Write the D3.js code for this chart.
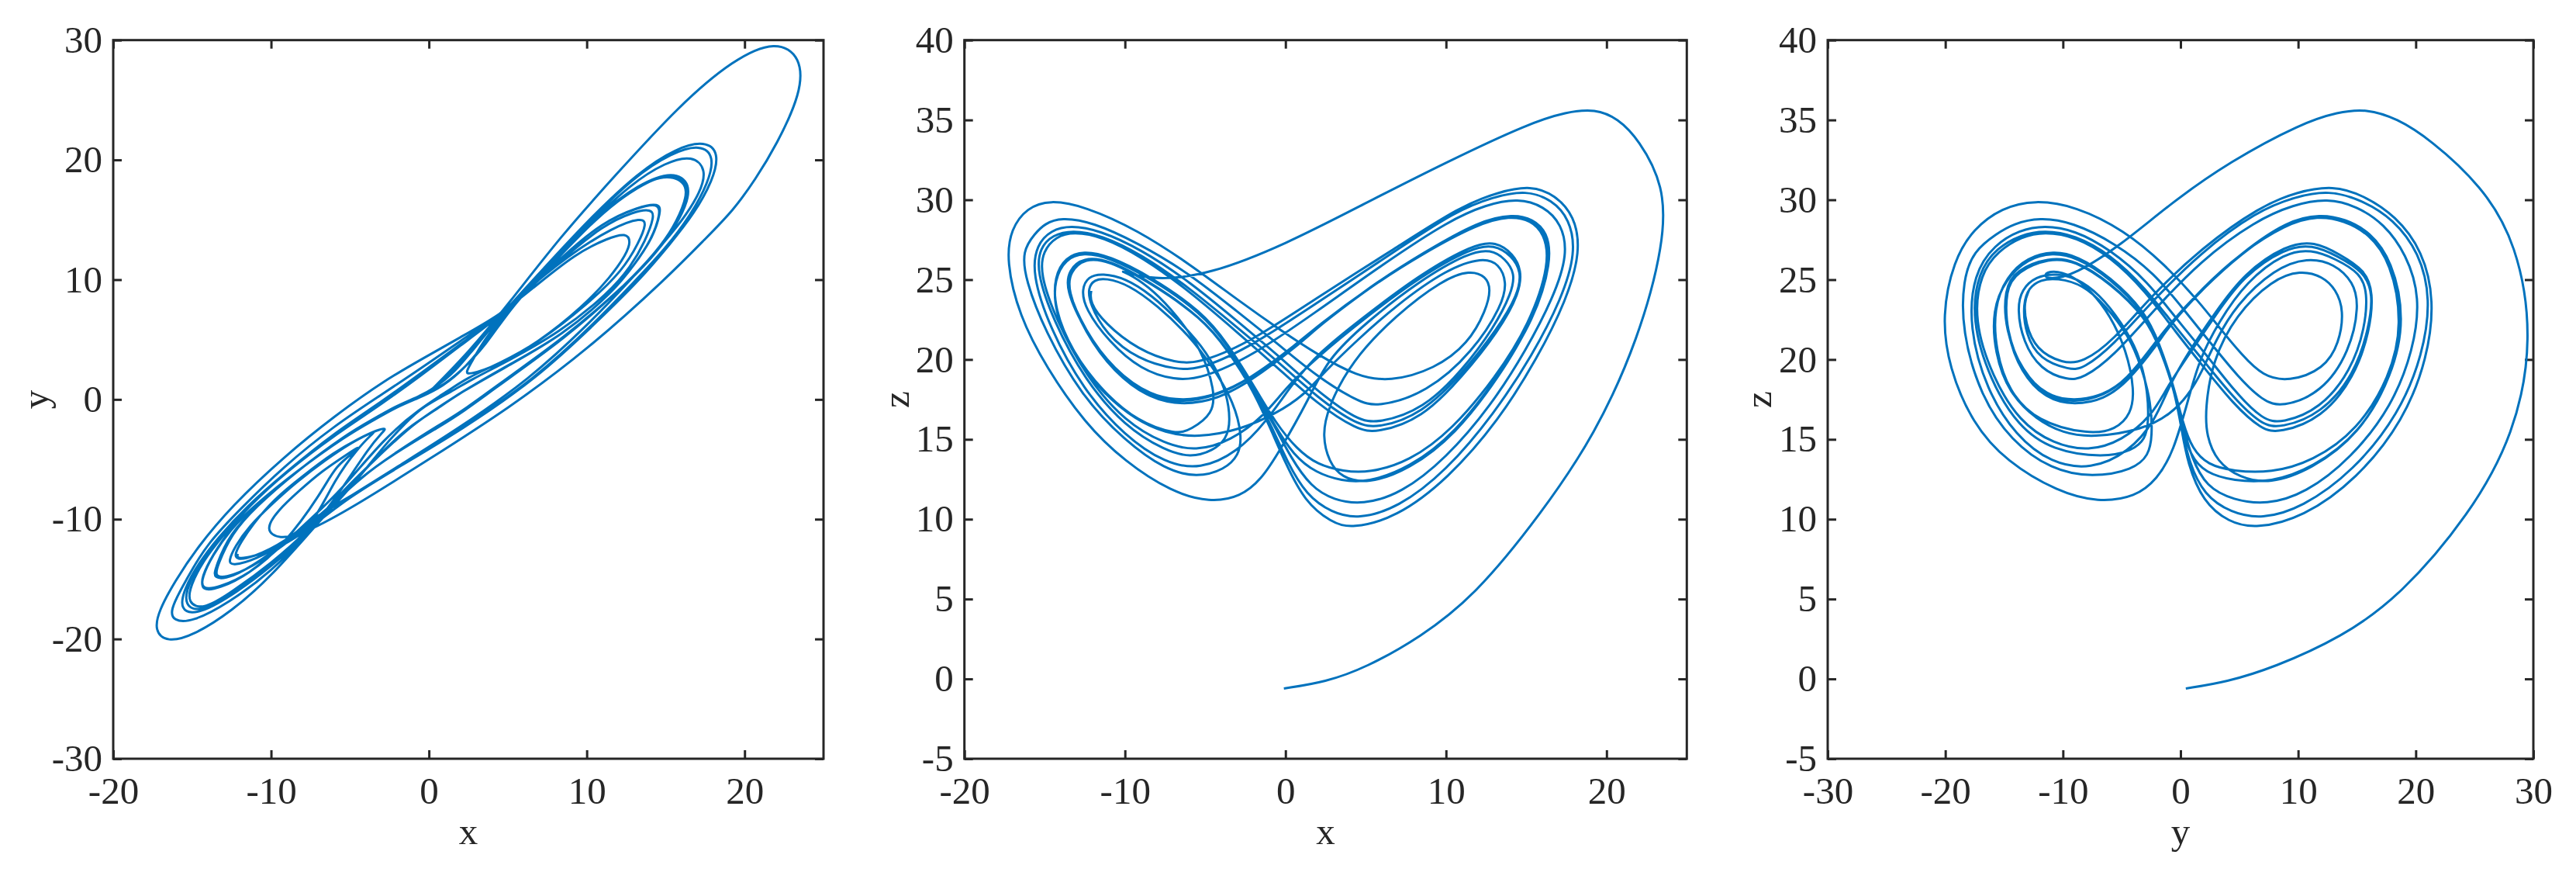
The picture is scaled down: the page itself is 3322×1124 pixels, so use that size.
<!DOCTYPE html>
<html lang="en">
  <head>
    <meta charset="utf-8" />
    <title>Lorenz attractor projections</title>
    <script src="https://cdnjs.cloudflare.com/ajax/libs/d3/7.0.0/d3.min.js"></script>
    <style>
      body {
        margin: 0;
        background-color: #fff;
      }
      svg {
        display: block;
      }
      text {
        font-family: "Liberation Serif", serif;
        font-size: 49px;
        fill: #262626;
      }
      .trace {
        fill: none;
        stroke: #0072bd;
        stroke-width: 3px;
        stroke-linejoin: round;
      }
      .frame {
        fill: none;
        stroke: #262626;
        stroke-width: 3px;
      }
      .tick line {
        stroke: #262626;
        stroke-width: 3px;
      }
      .domain {
        display: none;
      }
    </style>
  </head>

  <body>
    <div id="chart"></div>

    <script>
      // one trajectory, one row per turn of the curve
      const xValues = [
        -0.1, 2.5, 5, 8.4, 11.8, 15.9, 19.3, 22, 23.6, 23.6, 22, 20.7, 19.3, 17.5, 15.2, 10.1, 5, 0, -4.8, -7.9, -9.5, -10.4, -9.6, -8.2, -6.8, -5.2, -4.4, -4.5, -5.9, -6.8,
        -9.2, -11.4, -13.3, -14.4, -14.4, -13.7, -12.6, -11, -8.4, -5.2, -3.6, -2, -0.6, 0.7, 2, 3.6,
        5.2, 7.7, 10.4, 13.1, 15.2, 16.5, 16.1, 15.3, 14, 12, 8.5, 5.2, 2, 0.75, -2.3, -4.4,
        -6.3, -8.4, -10.7, -12.5, -13.65, -13.5, -12.6, -11, -8.4, -5.2, -3.6, -2, -0.7, 0.3, 1.6, 3,
        4.8, 7.2, 10, 12.8, 15, 16.7, 17.6, 17.2, 16.1, 14.5, 12.5, 10.2, 6.4, 1.8, -2.1, -5.2,
        -6.9, -9, -11, -12.5, -12.7, -12.3, -11.4, -10, -8.4, -6.5, -4.9, -3.7, -3.4, -3.7, -4.5, -5.9,
        -7.5, -10, -12.5, -14.5, -15.5, -15.3, -14.5, -13.3, -11.5, -9, -6, -3, -0.5, 2, 4.45,
        5.8, 8.5, 11, 13.2, 14.5, 14.7, 14.1, 13, 11.6, 8.4, 5.2, 1.9, 0, -1.3, -3.4, -5.6,
        -7.5, -10, -12.4, -14.3, -15.3, -15.1, -14.3, -13.2, -11.4, -8.9, -6, -3, -0.5, 2, 4.45,
        5.7, 8.5, 11, 13.3, 14.6, 14.7, 14.2, 13.1, 11.7, 8.5, 5.3, 2, 0.3, -1.2, -3, -5.3,
        -7.5, -10, -12.6, -14.7, -15.8, -15.5, -14.6, -13.4, -11.6, -9, -6, -3, -0.5, 2, 4.45,
        5.8, 8.6, 11, 13, 14.1, 14.3, 13.7, 12.8, 11.4, 8.3, 5, 2.6, 1.5, -0.4, -1.5, -2.8,
        -4.7, -7.1, -10, -12.5, -14.9, -16.6, -17.4, -17.1, -16.1, -14.7, -12.5, -9.2, -6, -2.8, -0.4, 2, 4.45,
        6.5, 9.3, 11.4, 12.5, 12.8, 12.5, 11.5, 9.8, 6.9, 4.1, 2.6, 2.3, 2.7, 3.5,
        5.1, 7.7, 10.6, 13.3, 15.4, 16.5, 16.2, 15.4, 14.1, 12, 8.5, 5.2, 2, 0.75, -2.3, -4.4,
        -6.3, -8.4, -10.7, -12.5, -13.7, -13.5, -12.6, -11, -8.4, -5.2, -3.6, -2, -0.8, 0.1, 1.3, 2.9,
        4.5, 7, 10, 13, 15.4, 17.2, 18.1, 17.7, 16.6, 15, 13, 10.6, 6.7, 1.9, -2, -5.2,
        -6.8, -9.2, -11.2, -12.2, -12.3, -11.9, -11.2, -9.8, -8, -6, -4.5, -3.2, -2.7, -2.9, -3.8, -5.5,
        -7.5, -10, -12.7, -15, -16.2, -16.4, -15.6, -15, -14, -12, -9.2, -6, -3, -0.5, 2, 4.45,
        5.7, 8.8, 11.7, 13.5, 13.8, 13.3, 12.3, 10.1, 6.9, 4.45, 2.4, 1.2, -0.6, -2.8,
        -5.5, -7.5, -9.3, -11.4, -13.3, -14.4, -14.4, -13.7, -12.6, -11, -8.4, -5.2, -3.6, -2, -0.7, 0.5, 1.9, 3.5,
        5.1, 7.7, 10.6, 13.3, 15.5, 16.6, 16.3, 15.4, 14.2, 12.1, 8.6, 5.3, 2.1, 0.8, -2.2, -4.3,
        -6.3, -8.4, -10.7, -12.5, -13.6, -13.4, -12.5, -11, -8.4, -5.2, -3.6, -2, -0.9, 0, 1.2, 2.85,
        4.1, 6.9, 10.1, 13.3, 15.7, 17.5, 18.4, 18, 16.8, 15.3, 13.3, 10.9, 6.9, 2, -2, -5.2,
        -6.8, -9.2, -11.3, -12.2, -12.1,
      ];
      const yValues = [
        0.45, 3.9, 7.9, 13.7, 18.7, 24.6, 28.4, 30, 28.6, 25.6, 21.2, 18.4, 15.8, 13.4, 10.3, 4.2, -0.8, -5, -9, -11.2, -11.7, -10.9, -9.3, -7.6, -6, -4.6, -3.9, -4.2, -5.5, -7.8,
        -12.2, -14.6, -15.7, -15.9, -14.8, -13, -10.8, -8.8, -6, -3, -1.8, -0.6, 0.2, 1, 2.3, 4.5,
        7.7, 11.2, 15.1, 17.8, 18.9, 17.9, 16, 13.9, 11.7, 9, 5, 1.9, -1.2, -2.2, -4.6, -6.6,
        -9, -11.4, -13.6, -14.8, -15, -13.9, -11.2, -9, -6, -2.9, -1.7, -0.5, 0.2, 0.9, 2.2, 4.5,
        7.3, 10.6, 14.5, 18, 19.8, 20.4, 19.2, 17.3, 15, 12.5, 9.6, 6.4, 1.7, -2.5, -5.7, -8.3,
        -9.6, -11.9, -13.4, -13.9, -13.5, -12.3, -10.6, -8.8, -6.9, -5, -3.6, -2.8, -2.7, -3, -4.1, -6.5,
        -10.9, -13.8, -16.2, -17.8, -17.2, -15.6, -13.6, -11.6, -9, -6, -3, -0.4, 2, 4.5, 6.9,
        8.5, 12, 14.8, 16, 16.4, 15.6, 13.3, 11.2, 8.9, 5.3, 3, 0.5, -1.2, -2.4, -5, -7.8,
        -10.8, -13.7, -16, -17.6, -17, -15.5, -13.5, -11.6, -8.9, -5.9, -3, -0.4, 2, 4.5, 6.9,
        8.4, 12, 14.8, 16.1, 16.4, 15.7, 13.5, 11.4, 9, 5.4, 3, 0.6, -1, -2.2, -4.4, -7.6,
        -11, -14, -16.5, -18, -17.6, -15.8, -13.7, -11.6, -9, -6, -2.8, -0.2, 2.2, 4.6, 7,
        8.6, 11.9, 14.5, 15.7, 15.9, 15.3, 13.2, 11.1, 8.9, 5.6, 3.2, 1.6, 0.7, -0.6, -2, -3.8,
        -7, -10.4, -14.8, -17.7, -19.7, -20.3, -19.3, -17.6, -15.2, -12.4, -8.9, -4.8, -1.4, 1.6, 3.4, 5.2, 7,
        9.2, 12.2, 13.5, 13.9, 13.2, 12.1, 10.2, 7.8, 4.7, 2.7, 2.1, 2.2, 3.1, 5,
        7.6, 11.1, 15.2, 17.9, 19, 17.9, 16, 13.9, 11.8, 9, 5.1, 2, -1.1, -2.1, -4.6, -6.6,
        -9, -11.3, -13.5, -14.9, -15, -14, -11.2, -9, -6, -2.9, -1.7, -0.5, 0.1, 0.7, 2, 4.3,
        6.9, 10.3, 14.7, 18.6, 20.6, 21.3, 20.3, 18.1, 15.4, 12.6, 9.8, 6.5, 1.7, -2.6, -5.7, -8.3,
        -9.4, -12, -13.2, -13.4, -12.9, -11.9, -10.5, -8.3, -6.4, -4.4, -3.3, -2.5, -2.4, -2.7, -4, -7.5,
        -11, -14.4, -17, -18.6, -18.5, -17.6, -15.6, -14.2, -12, -9.2, -5.6, -2.2, 0.4, 2.6, 4.9, 7,
        8.6, 12, 14.4, 15.2, 14.7, 13.1, 10.8, 8, 4.7, 3, 1.8, 0.7, -0.8, -3.2,
        -7.5, -10, -12.2, -14.6, -15.8, -16, -14.9, -13, -10.9, -8.8, -6, -3, -1.8, -0.6, 0.1, 0.8, 2.1, 4.5,
        7.7, 11.2, 15.3, 18, 19.1, 18, 16.1, 14, 11.9, 9.1, 5.2, 2.1, -1, -2, -4.5, -6.5,
        -9, -11.4, -13.6, -14.8, -14.9, -13.9, -11.2, -9, -6, -2.9, -1.7, -0.5, 0.1, 0.6, 1.9, 4.1,
        6.4, 10.4, 15, 19, 21, 21.6, 20.6, 18.3, 15.5, 13, 9.9, 6.8, 1.8, -2.6, -5.7, -8.3,
        -10, -12.3, -13.2, -13.3, -12.9,
      ];
      const zValues = [
        -0.6, -0.2, 0.7, 2.6, 5.2, 10.3, 15.3, 21.3, 27.3, 30.9, 33.8, 35.1, 35.7, 35.5, 34.8, 32.4, 29.8, 27.2, 25.3, 25, 25.3, 25.6, 25.3, 24.3, 22.8, 20.6, 18.05, 16.6, 15.6, 15.3,
        16.1, 18, 20.5, 23.2, 25.2, 26.4, 26.8, 26.5, 25.2, 23, 21, 18.4, 16, 14.4, 13.4, 13,
        12.9, 13.6, 15.6, 18.9, 22.2, 26.1, 27.9, 28.7, 29, 28.5, 26.6, 24.5, 22, 21, 18.7, 17.75,
        17.4, 17.7, 19.35, 21.8, 24.5, 25.6, 26.4, 26.25, 24.85, 22.6, 20.65, 18.1, 15.9, 13.9, 12, 11.2,
        10.9, 11.6, 13.8, 17.1, 20.6, 23.9, 26.6, 28.5, 29.6, 30.1, 29.7, 28.7, 26.2, 22.9, 20.2, 18.8,
        18.7, 19.35, 21.1, 23.2, 24.4, 25.2, 25.4, 25.1, 24.1, 22.3, 20.5, 18.2, 16.1, 15, 14.3, 13.85,
        14.3, 15.8, 18.7, 22.5, 25.5, 27, 27.8, 28.1, 27.8, 26.6, 24.5, 22, 19.9, 17.6, 15.9,
        15.7, 16.6, 19.1, 21.9, 24.1, 25.5, 26.5, 27.2, 27, 25.2, 22.8, 20.1, 18.2, 16.5, 14.9, 14.25,
        14.7, 16.1, 18.9, 22.5, 25.4, 26.8, 27.7, 28, 27.7, 26.4, 24.3, 21.7, 19.5, 17.2, 15.6,
        15.4, 16.3, 18.9, 21.8, 24.2, 25.6, 26.6, 27.4, 27.2, 25.4, 23, 20.4, 18.3, 16.1, 14.2, 13.1,
        13.5, 15.2, 18.1, 22, 25.4, 27.2, 28.1, 28.4, 28.1, 26.9, 24.9, 22.4, 20.3, 18, 16.2,
        16, 16.9, 19.3, 22, 24.2, 25.4, 26.3, 26.9, 26.7, 24.9, 22.3, 20, 17.6, 14.2, 12.5, 11.4,
        11.05, 11.7, 13.6, 16, 19.5, 22.75, 26.2, 28.2, 29.5, 30, 29.6, 28.1, 26, 23.6, 21.9, 20.3, 18.95,
        18.6, 19.4, 21, 23.1, 24.4, 25.2, 25.6, 25, 22.8, 19.9, 16.9, 15.2, 13.6, 12.6,
        12.2, 13.1, 15.3, 18.9, 22.4, 26.1, 27.9, 28.7, 29.05, 28.6, 26.6, 24.5, 22.1, 21, 18.7, 17.7,
        17.3, 17.6, 19.3, 21.8, 24.4, 25.6, 26.4, 26.2, 24.8, 22.6, 20.6, 18.05, 15.7, 13.6, 11.5, 10.4,
        10, 10.7, 13, 16.6, 20.3, 23.8, 26.7, 28.8, 30, 30.6, 30.2, 29.3, 26.7, 23.5, 20.9, 19.4,
        19.35, 20, 21.6, 23.5, 24.5, 25, 25.1, 24.7, 23.4, 21.5, 19.5, 17.3, 15.2, 14, 13.1, 12.6,
        13.1, 14.9, 17.7, 21.8, 25, 26.8, 27.9, 28.5, 28.9, 28.6, 27.3, 25.4, 23, 21, 18.9, 17.4,
        17, 17.9, 20.5, 23.4, 24.85, 26, 26.4, 25.7, 23.4, 21.2, 19.2, 17.8, 16.6, 15.6,
        15.1, 15.4, 16.2, 17.9, 20.4, 23.1, 25, 26.3, 26.7, 26.4, 25.1, 22.9, 20.9, 18.3, 15.9, 14, 12.9, 12.4,
        12.3, 13.2, 15.4, 19, 22.5, 26.2, 28, 28.8, 29.1, 28.7, 26.7, 24.6, 22.1, 20.9, 18.6, 17.5,
        17.15, 17.5, 19.2, 21.7, 24.4, 25.5, 26.35, 26.2, 24.85, 22.6, 20.65, 18.05, 15.6, 13.5, 11.1, 9.8,
        9.4, 10.1, 12.5, 16.2, 20.1, 23.7, 26.8, 29, 30.3, 30.9, 30.5, 29.6, 27, 23.9, 21.2, 19.8,
        19.75, 20.6, 22.3, 23.6, 24.3,
      ];

      const xDomain = [-20, 25];
      const yDomain = [-30, 30];
      const zDomain = [-5, 40];
      const xTicks = [-20, -10, 0, 10, 20];
      const yTicks = [-30, -20, -10, 0, 10, 20, 30];
      const zTicks = [-5, 0, 5, 10, 15, 20, 25, 30, 35, 40];

      const width = 3322;
      const height = 1124;
      const plotTop = 51.7;
      const plotBottom = 978;
      const tickLength = 11;

      const svg = d3
        .select("#chart")
        .append("svg")
        .attr("width", width)
        .attr("height", height);

      function drawPanel(p) {
        const sx = d3.scaleLinear().domain(p.hDomain).range([p.left, p.right]);
        const sy = d3.scaleLinear().domain(p.vDomain).range([plotBottom, plotTop]);
        const g = svg.append("g");

        const fmt = (d) => String(d); // plain hyphen like the original labels

        // bottom + left carry the labels, top + right only mirror the ticks
        g.append("g")
          .attr("transform", `translate(0,${plotBottom})`)
          .call(d3.axisBottom(sx).tickValues(p.hTicks).tickFormat(fmt).tickSize(-tickLength).tickPadding(23));
        g.append("g")
          .attr("transform", `translate(${p.left},0)`)
          .call(d3.axisLeft(sy).tickValues(p.vTicks).tickFormat(fmt).tickSize(-tickLength).tickPadding(14));
        g.append("g")
          .attr("transform", `translate(0,${plotTop})`)
          .call(d3.axisTop(sx).tickValues(p.hTicks).tickFormat("").tickSize(-tickLength));
        g.append("g")
          .attr("transform", `translate(${p.right},0)`)
          .call(d3.axisRight(sy).tickValues(p.vTicks).tickFormat("").tickSize(-tickLength));

        const line = d3
          .line()
          .x((d, i) => sx(p.hValues[i]))
          .y((d, i) => sy(p.vValues[i]))
          .curve(d3.curveBasis);

        g.append("path").datum(p.hValues).attr("class", "trace").attr("d", line);

        g.append("rect")
          .attr("class", "frame")
          .attr("x", p.left)
          .attr("y", plotTop)
          .attr("width", p.right - p.left)
          .attr("height", plotBottom - plotTop);

        g.append("text")
          .attr("x", (p.left + p.right) / 2)
          .attr("y", 1088)
          .attr("text-anchor", "middle")
          .text(p.hLabel);

        g.append("text")
          .attr("transform", `translate(${p.vLabelX},515) rotate(-90)`)
          .attr("text-anchor", "middle")
          .text(p.vLabel);
      }

      drawPanel({
        left: 146, right: 1062, vLabelX: 62,
        hValues: xValues, vValues: yValues, hDomain: xDomain, vDomain: yDomain,
        hTicks: xTicks, vTicks: yTicks, hLabel: "x", vLabel: "y",
      });
      drawPanel({
        left: 1243.7, right: 2175.3, vLabelX: 1172,
        hValues: xValues, vValues: zValues, hDomain: xDomain, vDomain: zDomain,
        hTicks: xTicks, vTicks: zTicks, hLabel: "x", vLabel: "z",
      });
      drawPanel({
        left: 2357, right: 3267, vLabelX: 2284,
        hValues: yValues, vValues: zValues, hDomain: yDomain, vDomain: zDomain,
        hTicks: yTicks, vTicks: zTicks, hLabel: "y", vLabel: "z",
      });
    </script>
  </body>
</html>
